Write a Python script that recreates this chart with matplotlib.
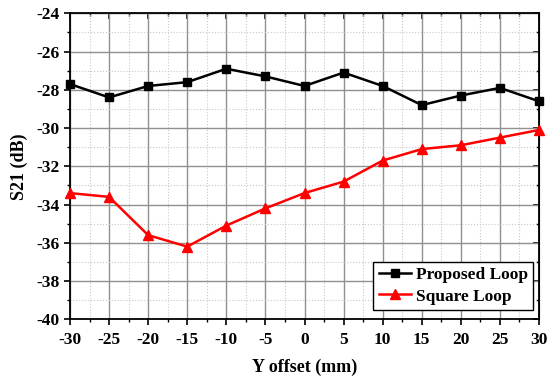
import matplotlib
matplotlib.use("Agg")
import matplotlib.pyplot as plt
from matplotlib.ticker import MultipleLocator

plt.rcParams['font.family'] = ['Liberation Serif', 'DejaVu Serif']
plt.rcParams['font.weight'] = 'bold'
plt.rcParams['axes.unicode_minus'] = False

x_offset = [-30, -25, -20, -15, -10, -5, 0, 5, 10, 15, 20, 25, 30]
proposed = [-27.7, -28.4, -27.8, -27.6, -26.9, -27.3, -27.8, -27.1, -27.8, -28.8, -28.3, -27.9, -28.6]
square = [-33.4, -33.6, -35.6, -36.2, -35.1, -34.2, -33.4, -32.8, -31.7, -31.1, -30.9, -30.5, -30.1]

fig = plt.figure(figsize=(5.58, 3.83), dpi=100)
ax = fig.add_axes([0.1254, 0.1663, 0.966 - 0.1254, 0.9653 - 0.1663])

ax.plot(x_offset, proposed, color='black', lw=1.8, marker='s', ms=6, label='Proposed Loop', zorder=3, clip_on=False)
ax.plot(x_offset, square, color='red', lw=1.8, marker='^', ms=7, label='Square Loop', zorder=3, clip_on=False)

ax.set_xlim(-30, 30)
ax.set_ylim(-40, -24)
ax.xaxis.set_major_locator(MultipleLocator(5))
ax.xaxis.set_minor_locator(MultipleLocator(2.5))
ax.yaxis.set_major_locator(MultipleLocator(2))
ax.yaxis.set_minor_locator(MultipleLocator(1))

ax.grid(which='major', color='#909090', lw=1.0, ls='-')
ax.grid(which='minor', color='#c8c8c8', lw=0.8, ls=':')
ax.set_axisbelow(True)

ax.tick_params(which='major', direction='out', length=4, width=1.2, labelsize=12.5)
ax.tick_params(axis='x', which='major', pad=5)
ax.tick_params(which='minor', direction='out', length=2.5, width=1.0)
for s in ax.spines.values():
    s.set_linewidth(1.3)

# top/right inward ticks
secx = ax.secondary_xaxis('top')
secx.xaxis.set_major_locator(MultipleLocator(5))
secx.xaxis.set_minor_locator(MultipleLocator(2.5))
secx.tick_params(which='major', direction='in', length=4, width=1.2, labeltop=False)
secx.tick_params(which='minor', direction='in', length=2.5, width=1.0)
secy = ax.secondary_yaxis('right')
secy.yaxis.set_major_locator(MultipleLocator(2))
secy.yaxis.set_minor_locator(MultipleLocator(1))
secy.tick_params(which='major', direction='in', length=4, width=1.2, labelright=False)
secy.tick_params(which='minor', direction='in', length=2.5, width=1.0)

ax.set_xlabel('Y offset (mm)', fontsize=13, fontweight='bold', labelpad=8)
ax.set_ylabel('S21 (dB)', fontsize=13, fontweight='bold', labelpad=6)

leg = ax.legend(loc='lower right', fontsize=12.5, frameon=True, fancybox=False,
                edgecolor='black', framealpha=1, handlelength=1.85, borderpad=0.3,
                labelspacing=0.3, borderaxespad=0.2, handletextpad=0.3,
                bbox_to_anchor=(0.995, 0.02))
leg.get_frame().set_linewidth(1.0)
for t in leg.get_texts():
    t.set_fontweight('bold')

fig.savefig('out.png', dpi=100)
